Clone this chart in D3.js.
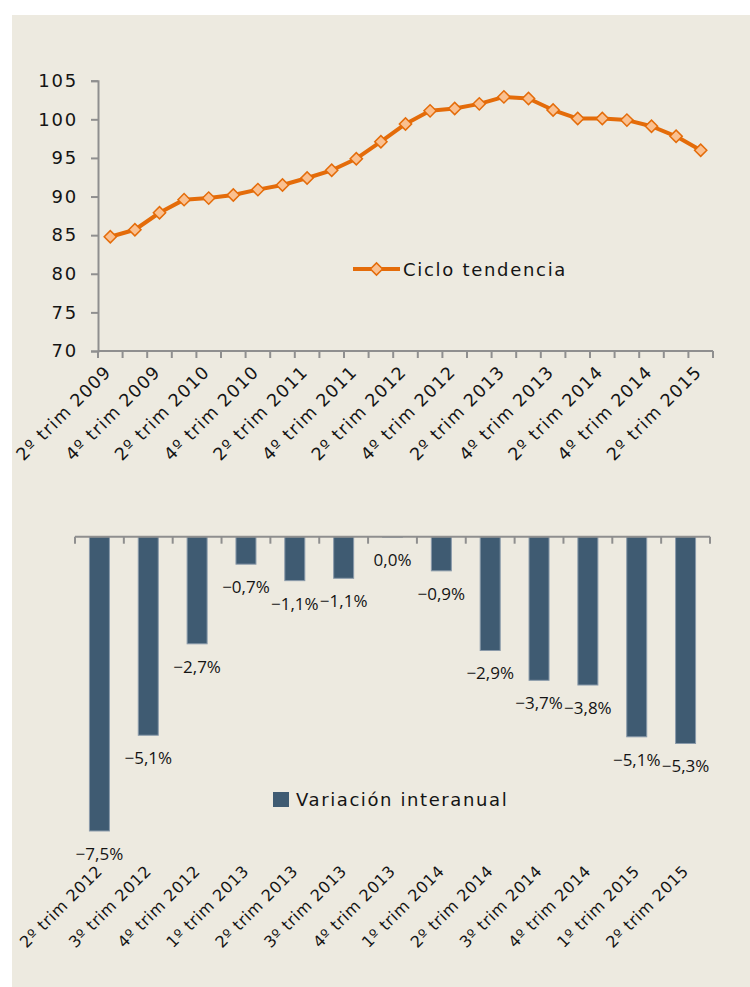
<!DOCTYPE html>
<html>
<head>
<meta charset="utf-8">
<script src="https://cdn.jsdelivr.net/npm/d3@7"></script>
<style>
  html, body { margin: 0; padding: 0; background: #ffffff; }
  svg { display: block; }
</style>
</head>
<body>
<svg id="chart" width="750" height="987"></svg>
<script>
// ---------- DATA ----------
const trendCategories = [
  "2º trim 2009", "3º trim 2009", "4º trim 2009",
  "1º trim 2010", "2º trim 2010", "3º trim 2010", "4º trim 2010",
  "1º trim 2011", "2º trim 2011", "3º trim 2011", "4º trim 2011",
  "1º trim 2012", "2º trim 2012", "3º trim 2012", "4º trim 2012",
  "1º trim 2013", "2º trim 2013", "3º trim 2013", "4º trim 2013",
  "1º trim 2014", "2º trim 2014", "3º trim 2014", "4º trim 2014",
  "1º trim 2015", "2º trim 2015"
];
const trendValues = [
  84.8, 85.7, 87.9, 89.6, 89.8, 90.2, 90.9, 91.5, 92.4, 93.4, 94.9, 97.1,
  99.4, 101.1, 101.4, 102.0, 102.9, 102.7, 101.2, 100.1, 100.1, 99.9, 99.1,
  97.8, 96.0
];
const trendTicks = [70, 75, 80, 85, 90, 95, 100, 105];
const trendLegend = "Ciclo tendencia";

const varCategories = [
  "2º trim 2012", "3º trim 2012", "4º trim 2012",
  "1º trim 2013", "2º trim 2013", "3º trim 2013", "4º trim 2013",
  "1º trim 2014", "2º trim 2014", "3º trim 2014", "4º trim 2014",
  "1º trim 2015", "2º trim 2015"
];
const varValues = [-7.5, -5.06, -2.73, -0.70, -1.12, -1.06, 0.0, -0.87, -2.9, -3.66, -3.78, -5.1, -5.27];
const varLegend = "Variación interanual";

// ---------- STYLE ----------
const BG = "#EDEAE0";
const AXIS = "#8f8f8f";
const ORANGE = "#E46C0A";
const MARKER_FILL = "#FAC090";
const BAR = "#3F5B72";
const BAR_STROKE = "#8A9AAA";
const TEXT = "#141414";
const FONT = "'DejaVu Sans', sans-serif";
const LABEL_FONT = "'Open Sans', sans-serif";

const svg = d3.select("#chart");
svg.append("rect").attr("x", 12).attr("y", 15).attr("width", 738).attr("height", 972).attr("fill", BG);

const locale = d3.formatLocale({decimal: ",", thousands: ".", grouping: [3], currency: ["", "€"], minus: "\u2212", percent: "%"});
const fmt = v => locale.format(".1f")(v) + "%";

// ---------- TOP CHART ----------
const gTop = svg.append("g");
const x1 = d3.scaleBand().domain(trendCategories).range([98, 713]);
const y1 = d3.scaleLinear().domain([70, 105]).range([351, 80.7]);

const yAxis = d3.axisLeft(y1).tickValues(trendTicks).tickSize(7).tickPadding(13);
const gy = gTop.append("g").attr("transform", `translate(${x1.range()[0]},0)`).call(yAxis);
gy.select(".domain").attr("stroke", AXIS).attr("stroke-width", 2);
gy.selectAll(".tick line").attr("stroke", AXIS).attr("stroke-width", 2);
gy.selectAll(".tick text").attr("font-family", FONT).attr("font-size", 18).attr("fill", TEXT).attr("letter-spacing", 1.8);

gTop.append("line").attr("x1", x1.range()[0]).attr("x2", x1.range()[1])
  .attr("y1", y1(70)).attr("y2", y1(70)).attr("stroke", AXIS).attr("stroke-width", 2);
const bounds1 = trendCategories.map(c => x1(c)).concat([x1.range()[1]]);
gTop.selectAll(".xt1").data(bounds1).enter().append("line")
  .attr("x1", d => d).attr("x2", d => d).attr("y1", y1(70)).attr("y2", y1(70) + 7)
  .attr("stroke", AXIS).attr("stroke-width", 2);
gTop.selectAll(".xl1").data(trendCategories.filter((d, i) => i % 2 === 0)).enter().append("text")
  .attr("transform", d => `translate(${x1(d) + x1.bandwidth() / 2 + 2},${y1(70) + 22}) rotate(-45)`)
  .attr("text-anchor", "end")
  .attr("font-family", FONT).attr("font-size", 17.5).attr("fill", TEXT).attr("letter-spacing", 1.2)
  .text(d => d);

const line = d3.line().x((d, i) => x1(trendCategories[i]) + x1.bandwidth() / 2).y(d => y1(d));
gTop.append("path").datum(trendValues).attr("d", line)
  .attr("fill", "none").attr("stroke", ORANGE).attr("stroke-width", 4).attr("stroke-linejoin", "round");
const diamond = d3.symbol().type(d3.symbolSquare).size(75);
gTop.selectAll(".mk").data(trendValues).enter().append("path")
  .attr("d", diamond)
  .attr("transform", (d, i) => `translate(${x1(trendCategories[i]) + x1.bandwidth() / 2},${y1(d)}) rotate(45)`)
  .attr("fill", MARKER_FILL).attr("stroke", ORANGE).attr("stroke-width", 1.5);

const lg1 = gTop.append("g").attr("transform", "translate(353,269)");
lg1.append("line").attr("x1", 0).attr("x2", 47).attr("y1", 0).attr("y2", 0).attr("stroke", ORANGE).attr("stroke-width", 4);
lg1.append("path").attr("d", diamond).attr("transform", "translate(23.5,0) rotate(45)")
  .attr("fill", MARKER_FILL).attr("stroke", ORANGE).attr("stroke-width", 1.5);
lg1.append("text").attr("x", 50).attr("y", 7).attr("font-family", FONT).attr("font-size", 18)
  .attr("fill", TEXT).attr("letter-spacing", 1.7).text(trendLegend);

// ---------- BOTTOM CHART ----------
const gBot = svg.append("g");
const x2 = d3.scaleBand().domain(varCategories).range([75, 710]);
const y2 = d3.scaleLinear().domain([-8, 0]).range([850.6, 536.7]);

gBot.selectAll(".bar").data(varValues).enter().append("rect")
  .attr("x", (d, i) => x2(varCategories[i]) + x2.bandwidth() / 2 - 10)
  .attr("width", 20)
  .attr("y", y2(0))
  .attr("height", d => Math.max(0.5, y2(d) - y2(0)))
  .attr("fill", BAR).attr("stroke", BAR_STROKE).attr("stroke-width", 1);

gBot.append("line").attr("x1", x2.range()[0]).attr("x2", x2.range()[1])
  .attr("y1", y2(0)).attr("y2", y2(0)).attr("stroke", AXIS).attr("stroke-width", 2);
const bounds2 = varCategories.map(c => x2(c)).concat([x2.range()[1]]);
gBot.selectAll(".xt2").data(bounds2).enter().append("line")
  .attr("x1", d => d).attr("x2", d => d).attr("y1", y2(0)).attr("y2", y2(0) + 7)
  .attr("stroke", AXIS).attr("stroke-width", 2);

gBot.selectAll(".vl").data(varValues).enter().append("text")
  .attr("x", (d, i) => x2(varCategories[i]) + x2.bandwidth() / 2)
  .attr("y", d => y2(d) + 29)
  .attr("text-anchor", "middle")
  .attr("font-family", LABEL_FONT).attr("font-size", 17).attr("fill", TEXT)
  .text(d => fmt(d));

gBot.selectAll(".xl2").data(varCategories).enter().append("text")
  .attr("transform", d => `translate(${x2(d) + x2.bandwidth() / 2 + 4},${872}) rotate(-45)`)
  .attr("text-anchor", "end")
  .attr("font-family", FONT).attr("font-size", 16).attr("fill", TEXT).attr("letter-spacing", 0.6)
  .text(d => d);

const lg2 = gBot.append("g").attr("transform", "translate(273,792)");
lg2.append("rect").attr("width", 16).attr("height", 15).attr("fill", BAR);
lg2.append("text").attr("x", 23).attr("y", 14).attr("font-family", FONT).attr("font-size", 18)
  .attr("fill", TEXT).attr("letter-spacing", 1.6).text(varLegend);
</script>
</body>
</html>
